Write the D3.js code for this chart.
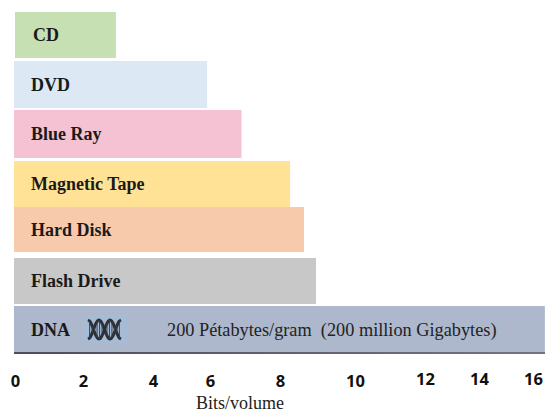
<!DOCTYPE html>
<html>
<head>
<meta charset="utf-8">
<script src="https://cdn.jsdelivr.net/npm/d3@7"></script>
<style>
  html, body { margin: 0; padding: 0; background: #fff; }
  svg { display: block; }
</style>
</head>
<body>
<div id="chart"></div>
<script>
// Storage media and their density on the Bits/volume axis
const media = ["CD", "DVD", "Blue Ray", "Magnetic Tape", "Hard Disk", "Flash Drive", "DNA"];
const bitsPerVolume = [2.94, 5.9, 6.9, 8.27, 8.64, 8.96, 16.44];
const barColors = ["#c6e0b4", "#dde8f5", "#f4c2d2", "#ffe296", "#f7caac", "#c8c8c8", "#adb8cc"];
const tickValues = [0, 2, 4, 6, 8, 10, 12, 14, 16];
const axisTitle = "Bits/volume";
const dnaNote = "200 Pétabytes/gram  (200 million Gigabytes)";

const width = 545, height = 413;

// The axis is hand-spaced, so the scale is piecewise between its ticks
const tickPixels = [15, 83, 153, 210, 280, 355, 425, 479, 533];
const x = d3.scaleLinear().domain(tickValues).range(tickPixels);
const y = d3.scaleBand().domain(media).range([12, 355]).paddingInner(0.04).paddingOuter(0);

// Rows are not perfectly regular: small per-row corrections
const rowShift = { "CD": 0, "DVD": -0.3, "Blue Ray": -0.6, "Magnetic Tape": 1.2, "Hard Disk": -2.1, "Flash Drive": -0.4, "DNA": -1.7 };
const rowTrim = { "CD": -1.3, "DVD": -0.3, "Blue Ray": 0.7, "Magnetic Tape": -1.3, "Hard Disk": -2.3, "Flash Drive": -1.3, "DNA": -0.3 };
const rowLeft = { "CD": 15 };
const labelX = { "CD": 33 };

const svg = d3.select("#chart").append("svg")
  .attr("width", width).attr("height", height);

const rows = media.map((name, i) => ({ name, value: bitsPerVolume[i], color: barColors[i] }));

const row = svg.selectAll("g.row").data(rows).join("g")
  .attr("class", "row")
  .attr("transform", d => `translate(0,${y(d.name) + rowShift[d.name]})`);

row.append("rect")
  .attr("x", d => rowLeft[d.name] || 14)
  .attr("y", 0)
  .attr("width", d => x(d.value) - (rowLeft[d.name] || 14))
  .attr("height", d => y.bandwidth() + rowTrim[d.name])
  .attr("fill", d => d.color);

row.append("text")
  .attr("x", d => labelX[d.name] || 31)
  .attr("y", d => (y.bandwidth() + rowTrim[d.name]) / 2 + 2)
  .attr("dominant-baseline", "middle")
  .attr("font-family", "'Liberation Serif', serif")
  .attr("font-weight", "bold")
  .attr("font-size", 18)
  .attr("fill", "#1a1a1a")
  .text(d => d.name);

// Dark rule along the foot of the DNA bar
const dnaTop = y("DNA") + rowShift["DNA"];
const footY = dnaTop + y.bandwidth() + rowTrim["DNA"];
const footGrad = svg.append("defs").append("linearGradient").attr("id", "foot");
footGrad.append("stop").attr("offset", "0%").attr("stop-color", "#4a4f58");
footGrad.append("stop").attr("offset", "100%").attr("stop-color", "#70757e");
svg.append("rect")
  .attr("x", x(0) - 1).attr("y", footY - 1)
  .attr("width", width - x(0) + 1).attr("height", 2)
  .attr("fill", "url(#foot)");

// Note inside the DNA bar
svg.append("text")
  .attr("x", 167).attr("y", dnaTop + y.bandwidth() / 2 + 2)
  .attr("dominant-baseline", "middle")
  .attr("font-family", "'Liberation Serif', serif")
  .attr("font-size", 18.3)
  .attr("fill", "#222")
  .style("white-space", "pre")
  .text(dnaNote);

// Double-helix pictogram
const helix = svg.append("g").attr("transform", "translate(83,315)");
helix.append("rect").attr("width", 44).attr("height", 28).attr("fill", "#a6bcd6");
const t = d3.range(0, 1.001, 0.05);
const strandY = (sign, u) => 14.5 + sign * 9.5 * Math.cos(u * Math.PI * 3);
const strand = sign => d3.line()
  .x(u => 5 + u * 33)
  .y(u => strandY(sign, u))
  .curve(d3.curveCatmullRom)(t);
[1, -1].forEach(sign => {
  helix.append("path").attr("d", strand(sign)).attr("fill", "none")
    .attr("stroke", "#2b2f36").attr("stroke-width", 3);
});
helix.selectAll("line.rung").data(d3.range(0.05, 1, 0.075)).join("line")
  .attr("class", "rung")
  .attr("x1", u => 5 + u * 33).attr("x2", u => 5 + u * 33)
  .attr("y1", u => strandY(1, u))
  .attr("y2", u => strandY(-1, u))
  .attr("stroke", "#3a4048").attr("stroke-width", 1);

// Bottom axis: labels only, no domain line or tick marks
const axis = svg.append("g")
  .attr("transform", "translate(0,372)")
  .call(d3.axisBottom(x).tickValues(tickValues).tickSize(0).tickPadding(0));
axis.select(".domain").remove();
axis.selectAll("text")
  .attr("font-family", "'Open Sans', sans-serif")
  .attr("font-weight", "bold")
  .attr("font-size", 16.5)
  .attr("fill", "#111")
  .attr("dy", "0.71em")
  .attr("y", d => d >= 12 ? 1 : 3);

svg.append("text")
  .attr("x", 240).attr("y", 408.5)
  .attr("text-anchor", "middle")
  .attr("font-family", "'Liberation Serif', serif")
  .attr("font-size", 18)
  .attr("fill", "#222")
  .text(axisTitle);
</script>
</body>
</html>
